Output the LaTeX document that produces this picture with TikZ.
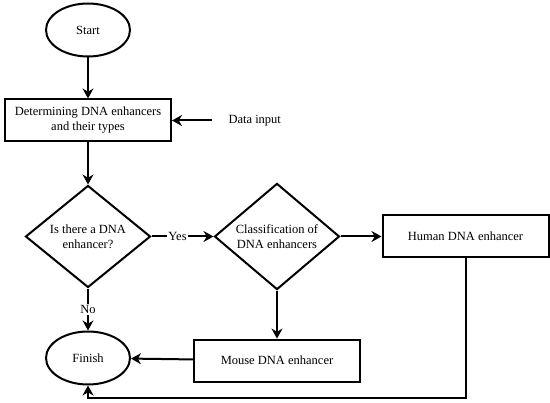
\documentclass[tikz,border=0pt]{standalone}
\usepackage{fontspec}
\setmainfont{Liberation Serif}
\usetikzlibrary{arrows.meta,positioning,shapes.geometric}

\begin{document}
\begin{tikzpicture}[
      x=1pt,y=1pt,
      font=\fontsize{12.5}{15}\selectfont,
      node distance=41pt and 41pt,
      term/.style={draw=black,line width=2pt,ellipse,minimum width=84pt,minimum height=53pt,inner sep=0pt},
      proc/.style={draw=black,line width=2pt,rectangle,minimum width=166pt,minimum height=42pt,align=center},
      dec/.style={draw=black,line width=2pt,diamond,minimum width=125pt,minimum height=102pt,inner sep=0pt,align=center},
      arr/.style={-{Stealth[length=10pt,width=11pt]},line width=2pt},
      lbl/.style={fill=white,inner sep=1pt}
    ]
    \useasboundingbox (0,0) rectangle (550,-403);
    \node[term] (start) at (88,-30) {Start};
    \node[proc,below=41pt of start] (determine) {Determining DNA enhancers\\and their types};
    \node[right=53pt of determine] (data) {Data input};
    \node[dec,below=42pt of determine] (isdna) {Is there a DNA\\enhancer?};
    \node[dec,right=62pt of isdna] (classify) {Classification of\\DNA enhancers};
    \node[proc,right=41pt of classify] (human) {Human DNA enhancer};
    \node[proc,below=48pt of classify] (mouse) {Mouse DNA enhancer};
    \node[term,below=42pt of isdna] (finish) {Finish};
    \coordinate (bottom) at (0,-398);
    \draw[arr] (start) -- (determine);
    \draw[arr,shorten <=13pt] (data) -- (determine);
    \draw[arr] (determine) -- (isdna);
    \draw[arr] (isdna) -- node[lbl,pos=0.42]{Yes} (classify);
    \draw[arr] (isdna) -- node[lbl]{No} (finish);
    \draw[arr] (classify) -- (human);
    \draw[arr] (classify) -- (mouse);
    \draw[arr] (mouse) -- (finish);
    \draw[arr] (human.south) -- (human.south |- bottom) -| (finish.south);
  \end{tikzpicture}
\end{document}
